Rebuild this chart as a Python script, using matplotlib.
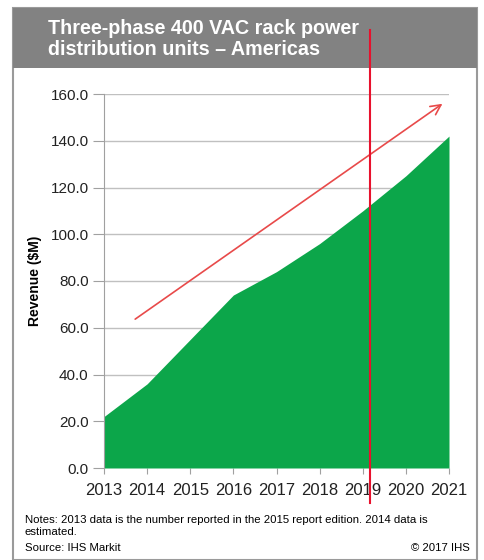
import matplotlib.pyplot as plt
from matplotlib.patches import Rectangle, FancyArrowPatch
from matplotlib.lines import Line2D

plt.rcParams['font.family'] = ['Liberation Sans', 'DejaVu Sans']

years = [2013, 2014, 2015, 2016, 2017, 2018, 2019, 2020, 2021]
revenue = [22, 36, 55, 74, 84, 96, 110, 125, 142]
yticks = [0, 20, 40, 60, 80, 100, 120, 140, 160]

fig = plt.figure(figsize=(4.85, 5.60), dpi=100)

# outer frame and title band
fig.patches.append(Rectangle((13/485, 0), 464/485, 1 - 8/560, transform=fig.transFigure,
                             facecolor='white', edgecolor='#9a9a9a', linewidth=1.5, zorder=-2))
fig.patches.append(Rectangle((13/485, 1 - 68/560), 464/485, 60/560, transform=fig.transFigure,
                             facecolor='#828282', edgecolor='none', zorder=-1))
fig.text(48/485, 1 - 39/560, "Three-phase 400 VAC rack power\ndistribution units \u2013 Americas",
         color='white', fontsize=14.2, fontweight='bold', va='center', ha='left',
         linespacing=1.15)

ax = fig.add_axes([104/485, 1 - 468/560, 345/485, 374/560])
ax.set_zorder(2)
ax.patch.set_alpha(0)
ax.fill_between(years, revenue, 0, color='#0ca64a', linewidth=0, zorder=2)
ax.set_xlim(2013, 2021)
ax.set_ylim(0, 160)
ax.set_yticks(yticks)
ax.set_yticklabels([f"{v:.1f}" for v in yticks], fontsize=11, color='#222222')
ax.set_xticks(years)
ax.set_xticklabels([str(y) for y in years], fontsize=12, color='#222222')
ax.grid(axis='y', color='#c0c0c0', linewidth=1, zorder=1)
ax.set_axisbelow(True)
for s in ['top', 'right', 'bottom']:
    ax.spines[s].set_visible(False)
ax.spines['left'].set_color('#a0a0a0')
ax.tick_params(axis='y', direction='out', length=8, color='#a0a0a0', pad=3)
ax.tick_params(axis='x', direction='out', length=4, color='#a0a0a0', pad=7)
ax.set_ylabel("Revenue ($M)", fontsize=10, fontweight='bold', labelpad=6)

# red trend arrow
ax.add_patch(FancyArrowPatch((2013.67, 63), (2020.9, 156.5), arrowstyle='->',
                             mutation_scale=18, color='#e84a4a', linewidth=1.2,
                             clip_on=False, zorder=5))

# red vertical marker line
fig.add_artist(Line2D([370/485, 370/485], [1 - 30/560, 1 - 503/560], color='#e8112d',
                      linewidth=1.5, transform=fig.transFigure, zorder=6))

fig.text(25/485, 1 - 526/560,
         "Notes: 2013 data is the number reported in the 2015 report edition. 2014 data is\nestimated.",
         fontsize=8.2, va='center', ha='left', linespacing=1.25)
fig.text(25/485, 1 - 548/560, "Source: IHS Markit", fontsize=8.2, va='center', ha='left')
fig.text(470/485, 1 - 548/560, "\u00a9 2017 IHS", fontsize=8.2, va='center', ha='right')

fig.savefig('out.png', dpi=100)
